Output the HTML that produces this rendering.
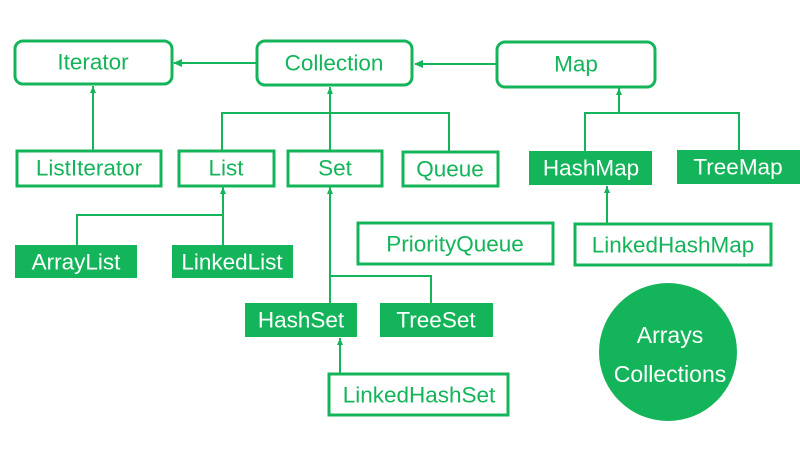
<!DOCTYPE html>
<html><head><meta charset="utf-8"><style>
html,body{margin:0;padding:0;background:#fff;}
svg{display:block;}
text{font-family:"Liberation Sans",sans-serif;font-size:22.5px;text-anchor:middle;dominant-baseline:central;}
.o{fill:#fff;stroke:#14b45a;stroke-width:3;}
.f{fill:#14b45a;stroke:none;}
.l{stroke:#14b45a;stroke-width:2;fill:none;}
.tg{fill:#14b45a;}
.tw{fill:#fff;}
</style></head><body>
<svg width="800" height="450" viewBox="0 0 800 450" xmlns="http://www.w3.org/2000/svg">
<defs>
<marker id="a" markerWidth="10" markerHeight="10" refX="8" refY="5" orient="auto" markerUnits="userSpaceOnUse">
<path d="M0,1 L9,5 L0,9 z" fill="#14b45a"/></marker>
<marker id="s" markerWidth="8" markerHeight="8" refX="7" refY="4" orient="auto" markerUnits="userSpaceOnUse">
<path d="M0,1 L7,4 L0,7 z" fill="#14b45a"/></marker>
</defs>
<line class="l" x1="257" y1="63" x2="174" y2="63" stroke-width="3" marker-end="url(#a)"/>
<line class="l" x1="497" y1="64" x2="415" y2="64" stroke-width="3" marker-end="url(#a)"/>
<line class="l" x1="93" y1="150" x2="93" y2="86" stroke-width="3" marker-end="url(#s)"/>
<line class="l" x1="330" y1="150" x2="330" y2="87" marker-end="url(#s)"/>
<polyline class="l" points="222,150 222,113 449,113 449,151"/>
<line class="l" x1="619" y1="113" x2="619" y2="88" marker-end="url(#s)"/>
<polyline class="l" points="585,151 585,113 739,113 739,150"/>
<line class="l" x1="607" y1="223" x2="607" y2="186" marker-end="url(#s)"/>
<line class="l" x1="223" y1="245" x2="223" y2="187" marker-end="url(#s)"/>
<polyline class="l" points="77,245 77,215 223,215"/>
<line class="l" x1="330" y1="303" x2="330" y2="187" marker-end="url(#s)"/>
<polyline class="l" points="330,276 431,276 431,303"/>
<line class="l" x1="340" y1="373" x2="340" y2="338" marker-end="url(#s)"/>
<rect class="o" x="15" y="41" width="157" height="43" rx="8"/><text class="tg" x="93" y="62">Iterator</text>
<rect class="o" x="257" y="41" width="155" height="44" rx="8"/><text class="tg" x="334" y="63">Collection</text>
<rect class="o" x="497" y="42" width="158" height="45" rx="8"/><text class="tg" x="576" y="64">Map</text>
<rect class="o" x="17" y="151" width="144" height="35"/><text class="tg" x="89" y="168">ListIterator</text>
<rect class="o" x="179" y="151" width="95" height="35"/><text class="tg" x="226" y="168">List</text>
<rect class="o" x="288" y="151" width="94" height="35"/><text class="tg" x="335" y="168">Set</text>
<rect class="o" x="403" y="152" width="95" height="34"/><text class="tg" x="450" y="169">Queue</text>
<rect class="f" x="529" y="151" width="123" height="34"/><text class="tw" x="591" y="168">HashMap</text>
<rect class="f" x="677" y="150" width="123" height="34"/><text class="tw" x="738" y="167">TreeMap</text>
<rect class="o" x="358" y="223" width="195" height="41"/><text class="tg" x="455" y="244">PriorityQueue</text>
<rect class="o" x="575" y="224" width="196" height="41"/><text class="tg" x="673" y="245">LinkedHashMap</text>
<rect class="f" x="15" y="245" width="122" height="33"/><text class="tw" x="76" y="262">ArrayList</text>
<rect class="f" x="172" y="245" width="121" height="33"/><text class="tw" x="232" y="262">LinkedList</text>
<rect class="f" x="245" y="303" width="112" height="34"/><text class="tw" x="301" y="320">HashSet</text>
<rect class="f" x="380" y="303" width="113" height="34"/><text class="tw" x="436" y="320">TreeSet</text>
<rect class="o" x="329" y="374" width="179" height="41"/><text class="tg" x="419" y="395">LinkedHashSet</text>
<circle class="f" cx="668" cy="352" r="69"/>
<text class="tw" x="670" y="335" style="font-size:23px">Arrays</text>
<text class="tw" x="670" y="374" style="font-size:23px">Collections</text>
</svg>
</body></html>
